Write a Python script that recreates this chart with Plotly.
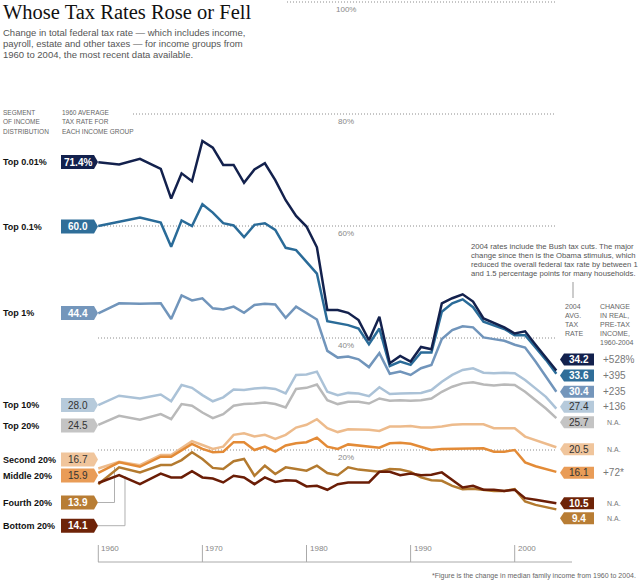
import plotly.graph_objects as go

# ---- data (total federal tax rate, %) ----
years = [1960, 1962, 1964, 1966] + list(range(1967, 2005))

groups = ["Top 0.01%", "Top 0.1%", "Top 1%", "Top 10%", "Top 20%",
          "Second 20%", "Middle 20%", "Fourth 20%", "Bottom 20%"]

top_001 = [71.4, 71.0, 72.0, 70.2, 64.9, 69.4, 68.0, 75.2, 74.0, 70.9, 70.9, 67.7, 70.1, 71.2,
           68.2, 64.6, 61.8, 59.9, 56.2, 45.0, 45.0, 44.5, 43.2, 39.6, 43.8, 35.5, 36.8, 35.8,
           38.4, 38.0, 46.2, 47.1, 47.8, 46.5, 43.5, 42.7, 41.9, 40.8, 41.2, 38.8, 36.4, 34.2]
top_01 = [60.0, 60.7, 61.5, 60.6, 56.3, 61.0, 60.0, 63.9, 62.4, 60.5, 60.1, 58.0, 60.2, 60.5,
          59.3, 56.1, 55.7, 53.6, 51.5, 43.0, 42.6, 42.3, 41.7, 38.9, 41.7, 35.0, 35.8, 35.2,
          37.4, 37.4, 44.7, 46.2, 46.9, 45.5, 42.9, 42.3, 41.6, 40.5, 40.5, 38.3, 36.1, 33.6]
top_1 = [44.4, 46.2, 46.1, 46.2, 43.4, 47.6, 46.7, 47.1, 45.3, 45.1, 45.6, 44.5, 45.9, 46.1,
         46.0, 43.6, 45.6, 44.4, 43.3, 37.7, 36.5, 36.7, 36.2, 34.8, 37.3, 33.6, 34.0, 33.4,
         34.6, 35.2, 39.8, 41.4, 42.1, 41.9, 40.1, 39.8, 39.5, 38.8, 38.3, 35.8, 33.1, 30.4]
top_10 = [28.0, 29.7, 29.2, 29.9, 28.7, 31.6, 31.1, 29.8, 28.7, 29.4, 30.8, 30.7, 31.0, 31.1,
          30.9, 30.1, 33.4, 33.5, 34.0, 30.4, 29.8, 30.2, 30.1, 29.6, 31.2, 30.0, 30.1, 30.1,
          30.2, 30.7, 32.2, 33.4, 34.3, 34.6, 33.8, 33.7, 33.8, 33.7, 32.5, 31.0, 29.5, 27.4]
top_20 = [24.5, 26.1, 25.4, 26.4, 25.5, 28.2, 27.9, 26.7, 25.7, 26.4, 27.9, 28.2, 28.3, 28.5,
          28.2, 27.6, 30.9, 31.1, 31.7, 28.9, 28.2, 28.6, 28.6, 28.3, 29.2, 28.8, 28.9, 28.8,
          28.9, 29.2, 30.4, 31.3, 31.9, 32.1, 31.7, 31.5, 31.7, 31.6, 30.4, 28.9, 27.4, 25.7]
second_20 = [16.7, 17.9, 17.3, 19.1, 19.1, 20.4, 21.6, 20.9, 20.2, 20.6, 22.7, 23.0, 22.4, 22.7,
             22.0, 22.7, 24.0, 24.5, 25.5, 23.9, 23.2, 23.7, 23.7, 23.6, 23.4, 24.2, 24.2, 24.3,
             24.0, 24.0, 24.2, 24.5, 24.6, 24.6, 24.6, 23.9, 23.9, 23.9, 22.4, 21.8, 21.1, 20.5]
middle_20 = [15.9, 17.8, 17.0, 18.8, 18.8, 20.0, 21.1, 20.2, 19.6, 19.7, 21.4, 21.4, 20.0, 20.6,
             19.7, 20.8, 21.2, 21.4, 22.2, 20.6, 20.2, 21.0, 20.8, 20.5, 20.4, 21.2, 21.3, 21.1,
             20.6, 20.0, 20.2, 20.2, 20.3, 20.2, 20.3, 19.7, 19.7, 20.0, 17.8, 17.1, 16.6, 16.1]
fourth_20 = [13.9, 16.9, 16.0, 17.3, 17.3, 18.2, 19.6, 18.4, 16.8, 16.6, 18.0, 18.4, 15.4, 17.2,
             15.7, 16.9, 16.6, 16.3, 17.2, 15.9, 15.5, 16.9, 16.5, 16.3, 16.1, 16.6, 16.5, 16.1,
             15.1, 14.6, 14.5, 13.6, 13.0, 13.1, 12.9, 12.7, 12.7, 13.0, 10.8, 10.2, 9.8, 9.4]
bottom_20 = [14.1, 15.5, 13.9, 15.8, 15.1, 15.1, 16.2, 15.1, 14.9, 14.2, 15.4, 15.1, 13.9, 15.1,
             14.3, 14.6, 14.5, 13.5, 13.6, 12.9, 13.9, 14.2, 14.2, 14.2, 16.1, 16.1, 15.5, 15.8,
             15.5, 15.6, 16.0, 14.6, 13.3, 13.6, 12.9, 12.9, 12.7, 12.9, 11.4, 11.1, 10.8, 10.5]

series = [top_001, top_01, top_1, top_10, top_20, second_20, middle_20, fourth_20, bottom_20]

income_change = ["+528%", "+395", "+235", "+136", "N.A.", "N.A.", "+72*", "N.A.", "N.A."]

grid_levels = [20, 40, 60, 80, 100]
tick_years = [1960, 1970, 1980, 1990, 2000]

# ---- styling ----
line_colors = ["#13214d", "#2a6b98", "#7195bb", "#abc2d7", "#b9b9b9",
               "#edbb8c", "#e38b37", "#b37a2f", "#6a1d06"]
box_colors = ["#13214d", "#2f6e99", "#7496bb", "#b6cadb", "#c4c4c4",
              "#f0c59c", "#e99c57", "#b87d34", "#6e2308"]
dark_box = [True, True, True, False, False, False, False, True, True]
draw_order = [4, 3, 2, 1, 0, 5, 6, 7, 8]

left_y = [162, 226.5, 313, 405, 425.5, 459.5, 475.5, 502.5, 525.7]    # px
right_y = [359.5, 375.5, 391.7, 406.7, 422.3, 449.3, 472.7, 518.3, 503.3]
grid_start = {100: 287, 80: 133, 60: 98, 40: 98, 20: 98}

SANS = "Liberation Sans, Arial, sans-serif"
SERIF = "Liberation Serif, Times New Roman, serif"

W, H = 640, 584
X0, XS = 98.3, 10.41   # pixel of 1960, px per year
Y0, YS = 562.0, 5.6    # pixel of 0%, px per point


def px(x):
    return x / W


def py(y):
    return 1 - y / H


fig = go.Figure()

for i in draw_order:
    fig.add_trace(go.Scatter(
        x=years, y=series[i], mode="lines", name=groups[i],
        line=dict(color=line_colors[i], width=2.5),
        hoverinfo="skip", showlegend=False
    ))


def note(x, y, s, size=8, color="#777", anchor="left", bold=False, family=SANS):
    if bold:
        s = "<b>" + s + "</b>"
    fig.add_annotation(x=px(x), y=py(y), xref="paper", yref="paper", text=s,
                       showarrow=False, xanchor=anchor, yanchor="middle",
                       align=anchor, borderpad=0,
                       font=dict(family=family, size=size, color=color))


def path(points, close=True):
    d = "M " + " L ".join("%.5f,%.5f" % (px(a), py(b)) for a, b in points)
    return d + (" Z" if close else "")


# dotted grid lines and their labels
for lvl in grid_levels:
    fig.add_shape(type="line", xref="paper", yref="y", x0=px(grid_start[lvl]), x1=px(555),
                  y0=lvl, y1=lvl, layer="below",
                  line=dict(color="#8c8c8c", width=1, dash="1px,2px"))
    note(346, Y0 - lvl * YS + 7, "%d%%" % lvl, size=8, color="#888", anchor="center")

# x axis
fig.add_shape(type="line", xref="paper", yref="y", x0=px(98), x1=px(572), y0=0, y1=0,
              line=dict(color="#aaaaaa", width=1))
for yr in tick_years:
    fig.add_shape(type="line", xref="x", yref="paper", x0=yr, x1=yr, y0=py(545), y1=py(Y0),
                  line=dict(color="#aaaaaa", width=1))
    fig.add_annotation(x=yr, y=py(548.5), xref="x", yref="paper", text=str(yr), showarrow=False,
                       xanchor="left", yanchor="middle", xshift=1,
                       font=dict(family=SANS, size=8, color="#888"))

# leader lines for the two lowest left labels
for pts in ([(98, 502.5), (114.5, 502.5), (114.5, 467)],
            [(98, 525.7), (125, 525.7), (125, 476)]):
    fig.add_shape(type="path", xref="paper", yref="paper", path=path(pts, False),
                  layer="below", line=dict(color="#b0b0b0", width=1))

# left and right value tags
for i, name in enumerate(groups):
    vals = series[i]
    ly, ry = left_y[i], right_y[i]
    fig.add_shape(type="path", xref="paper", yref="paper", line=dict(width=0),
                  fillcolor=box_colors[i],
                  path=path([(61, ly - 7), (94, ly - 7), (98, ly), (94, ly + 7), (61, ly + 7)]))
    fig.add_shape(type="path", xref="paper", yref="paper", line=dict(width=0),
                  fillcolor=box_colors[i],
                  path=path([(560, ry), (564, ry - 6), (594, ry - 6), (594, ry + 6), (564, ry + 6)]))
    txt_col = "white" if dark_box[i] else "#333"
    first = "%.1f" % vals[0] + ("%" if i == 0 else "")
    note(77.5, ly, first, size=10, color=txt_col, anchor="center", bold=dark_box[i])
    note(579, ry, "%.1f" % vals[-1], size=10, color=txt_col, anchor="center", bold=dark_box[i])
    note(2, ly, name, size=9, color="#111", bold=True)
    small = income_change[i] == "N.A."
    note(606 if small else 602, ry, income_change[i], size=7 if small else 10, color="#777")

# title block
note(2, 12, "Whose Tax Rates Rose or Fell", size=20.5, color="#111", family=SERIF)
sub = ["Change in total federal tax rate \u2014 which includes income,",
       "payroll, estate and other taxes \u2014 for income groups from",
       "1960 to 2004, the most recent data available."]
for k, s in enumerate(sub):
    note(2, 32 + 11.5 * k, s, size=9.5, color="#555")

for k, s in enumerate(["SEGMENT", "OF INCOME", "DISTRIBUTION"]):
    note(2, 112 + 9.7 * k, s, size=6.5, color="#666")
for k, s in enumerate(["1960 AVERAGE", "TAX RATE FOR", "EACH INCOME GROUP"]):
    note(61, 112 + 9.7 * k, s, size=6.5, color="#666")

# right-hand notes
bush = ["2004 rates include the Bush tax cuts. The major",
        "change since then is the Obama stimulus, which",
        "reduced the overall federal tax rate by between 1",
        "and 1.5 percentage points for many households."]
for k, s in enumerate(bush):
    note(470, 246 + 9.3 * k, s, size=7.7, color="#555")
fig.add_shape(type="line", xref="paper", yref="paper", x0=px(573), x1=px(573),
              y0=py(282), y1=py(298), line=dict(color="#999", width=1))

for k, s in enumerate(["2004", "AVG.", "TAX", "RATE"]):
    note(564, 306 + 9.2 * k, s, size=7, color="#666")
for k, s in enumerate(["CHANGE", "IN REAL,", "PRE-TAX", "INCOME,", "1960-2004"]):
    note(599, 306 + 9.2 * k, s, size=7, color="#666")

note(637, 576, "*Figure is the change in median family income from 1960 to 2004.",
     size=7, color="#666", anchor="right")

fig.update_layout(
    width=W, height=H,
    margin=dict(l=0, r=0, t=0, b=0),
    paper_bgcolor="white", plot_bgcolor="white",
    xaxis=dict(range=[1960 - X0 / XS, 1960 + (W - X0) / XS], visible=False, fixedrange=True),
    yaxis=dict(range=[-(H - Y0) / YS, Y0 / YS], visible=False, fixedrange=True),
)

# the page body has a default 8px margin; drop it so the figure fills the window
fig.write_html("out.html", config={"displayModeBar": False},
               post_script="document.body.style.margin = '0';")
